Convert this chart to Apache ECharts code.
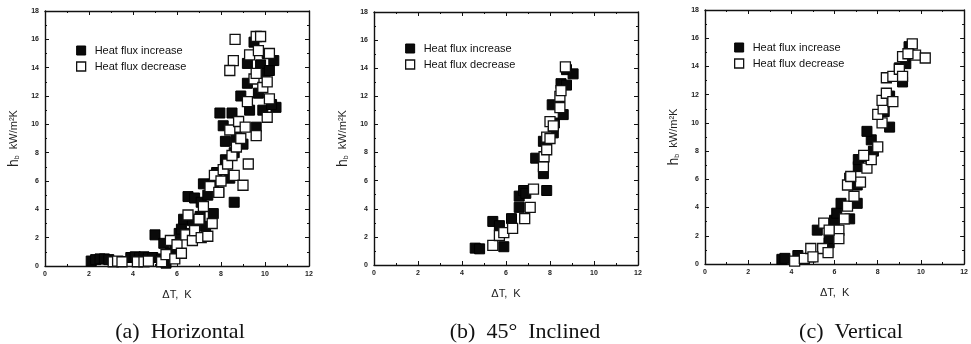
<!DOCTYPE html>
<html><head><meta charset="utf-8">
<script src="https://cdn.jsdelivr.net/npm/echarts@6/dist/echarts.min.js"></script>
<style>html,body{margin:0;padding:0;background:#fff}#c{width:971px;height:344px}</style>
</head><body><div id="c"></div>
<script>
// ---- data (ΔT [K], h_b [kW/m²K]) ----
const horizIncrease = [[2.1,0.35],[2.3,0.45],[2.5,0.5],[2.7,0.5],[2.9,0.45],[3.9,0.6],[4.1,0.65],[4.3,0.6],[4.5,0.65],[4.7,0.6],[4.9,0.6],[5.0,2.2],[5.3,0.5],[5.4,1.6],[5.5,0.2],[5.7,0.9],[5.9,1.2],[6.1,2.3],[6.2,2.6],[6.3,3.3],[6.5,4.9],[6.6,2.3],[6.7,3.2],[6.8,4.8],[7.05,3.5],[7.1,4.5],[7.2,5.8],[7.3,2.8],[7.4,5.0],[7.65,3.7],[7.65,5.8],[7.8,6.6],[7.9,5.2],[7.95,10.8],[8.1,9.9],[8.2,7.5],[8.2,8.8],[8.4,6.2],[8.5,10.8],[8.6,4.5],[8.6,8.0],[8.7,9.1],[8.9,12.0],[9.0,8.6],[9.2,12.9],[9.2,14.3],[9.3,11.0],[9.5,15.8],[9.6,9.8],[9.7,12.2],[9.8,14.2],[9.9,11.0],[10.0,13.6],[10.1,15.0],[10.2,13.8],[10.4,14.5],[10.5,11.2],[10.3,11.4]];
const horizDecrease = [[3.1,0.3],[3.3,0.35],[3.5,0.3],[4.2,0.3],[4.5,0.3],[4.7,0.35],[5.3,0.3],[5.5,0.8],[5.7,1.8],[5.9,0.5],[6.0,1.5],[6.2,0.9],[6.4,2.2],[6.5,3.6],[6.7,1.8],[6.8,2.5],[7.0,3.3],[7.1,2.0],[7.2,4.2],[7.4,2.1],[7.5,5.6],[7.6,3.0],[7.7,6.4],[7.9,5.2],[8.0,6.0],[8.1,6.8],[8.3,7.2],[8.4,9.6],[8.5,7.8],[8.6,6.4],[8.56,14.5],[9.0,5.7],[8.7,8.4],[8.8,10.2],[8.9,9.0],[9.24,7.2],[8.4,13.8],[8.64,16.0],[9.1,9.8],[9.2,11.6],[9.3,14.9],[9.6,9.2],[9.5,13.2],[9.6,16.2],[9.7,15.2],[10.1,10.5],[9.9,12.6],[10.1,13.0],[10.2,11.8],[10.2,15.0],[9.6,13.6],[9.8,16.2]];
const incl45Increase = [[4.6,1.2],[4.8,1.15],[5.4,3.1],[5.7,2.8],[5.9,1.3],[6.25,3.3],[6.6,4.1],[6.6,4.9],[6.8,5.3],[6.9,5.1],[7.35,7.6],[7.7,6.5],[7.7,8.8],[7.85,5.3],[8.15,9.4],[8.2,10.1],[8.1,11.4],[8.6,10.7],[8.5,12.9],[8.75,12.8],[8.75,13.9],[9.05,13.6]];
const incl45Decrease = [[5.4,1.4],[5.7,2.1],[5.9,2.3],[6.3,2.6],[6.85,3.3],[7.1,4.1],[7.25,5.4],[7.7,7.0],[7.73,7.7],[7.85,8.2],[7.85,9.1],[8.0,9.0],[8.0,10.2],[8.15,9.9],[8.45,11.2],[8.45,12.0],[8.5,12.4],[8.7,14.1]];
const vertIncrease = [[3.56,0.33],[3.7,0.4],[4.3,0.6],[4.9,0.5],[5.2,2.4],[5.75,1.5],[5.75,1.8],[6.0,3.1],[6.1,3.6],[6.3,4.3],[6.7,3.2],[7.05,4.3],[7.05,5.6],[6.7,6.1],[7.1,6.9],[7.1,7.4],[7.5,7.6],[7.8,8.0],[7.7,8.8],[7.5,9.4],[8.55,9.7],[8.3,10.8],[8.55,11.9],[9.15,12.9],[9.0,13.9],[9.3,14.2],[9.25,14.7],[9.45,15.4]];
const vertDecrease = [[4.15,0.2],[4.6,0.4],[4.9,1.1],[5.45,1.1],[5.0,0.5],[5.7,0.8],[5.5,2.9],[6.2,2.4],[6.2,1.8],[5.75,2.4],[6.45,3.2],[6.6,4.1],[6.9,4.8],[6.6,5.6],[7.2,5.8],[6.75,6.2],[7.5,6.8],[7.7,7.4],[7.35,7.7],[8.0,8.3],[8.2,10.0],[8.0,10.6],[8.25,11.0],[8.2,11.6],[8.4,12.1],[8.7,11.5],[8.4,13.2],[8.7,13.3],[9.0,13.8],[9.15,13.3],[9.15,14.7],[9.6,15.6],[9.75,14.8],[10.2,14.6],[9.4,14.9]];
const panelCaptions = ['(a)  Horizontal', '(b)  45°  Inclined', '(c)  Vertical'];
const seriesNames = ['Heat flux increase', 'Heat flux decrease'];
const xTitle = 'ΔT,  K';

const panels = [
  {grid:{left:45, top:11, width:264, height:255}, inc:horizIncrease, dec:horizDecrease, legend:{left:71, top:40}, cap:175},
  {grid:{left:374, top:12, width:264, height:253}, inc:incl45Increase, dec:incl45Decrease, legend:{left:400, top:38}, cap:520},
  {grid:{left:705, top:10, width:264, height:254}, inc:vertIncrease, dec:vertDecrease, legend:{left:729, top:37}, cap:846}
];

const tickLbl = {fontSize:7, fontWeight:'bold', color:'#222', fontFamily:'Liberation Sans'};
const lineS = {onZero:false, lineStyle:{color:'#111', width:1.4}};
const tickS = {inside:true, length:4, lineStyle:{color:'#111'}};
const minorS = {show:true, splitNumber:2, length:2, lineStyle:{color:'#111'}};
const incStyle = {color:'#0a0a0a', borderColor:'#000', borderWidth:1, opacity:1};
const decStyle = {color:'#fff', borderColor:'#111', borderWidth:1.3, opacity:1};
const grids=[], xAxes=[], yAxes=[], series=[], legends=[], titles=[];
panels.forEach((p,i)=>{
  grids.push(Object.assign({containLabel:false}, p.grid));
  xAxes.push({type:'value', gridIndex:i, min:0, max:12, interval:2, position:'bottom',
    name:xTitle, nameLocation:'middle', nameGap:23,
    nameTextStyle:{fontSize:11, color:'#222', fontFamily:'Liberation Sans'},
    axisLine:lineS, axisTick:tickS, minorTick:minorS,
    axisLabel:Object.assign({margin:5}, tickLbl), splitLine:{show:false}});
  xAxes.push({type:'value', gridIndex:i, min:0, max:12, interval:2, position:'top',
    axisLine:lineS, axisTick:tickS, minorTick:minorS,
    axisLabel:{show:false}, splitLine:{show:false}});
  yAxes.push({type:'value', gridIndex:i, min:0, max:18, interval:2, position:'left',
    name:'{h|h}{s|b}  kW/m²K', nameLocation:'middle', nameGap:24, nameRotate:90,
    nameTextStyle:{fontSize:11, color:'#222', fontFamily:'Liberation Sans',
      rich:{h:{fontSize:14, color:'#222', fontFamily:'Liberation Sans', verticalAlign:'bottom'},
            s:{fontSize:7, verticalAlign:'bottom', fontFamily:'Liberation Sans', color:'#222'}}},
    axisLine:lineS, axisTick:tickS, minorTick:minorS,
    axisLabel:Object.assign({margin:6}, tickLbl), splitLine:{show:false}});
  yAxes.push({type:'value', gridIndex:i, min:0, max:18, interval:2, position:'right',
    axisLine:lineS, axisTick:tickS, minorTick:minorS,
    axisLabel:{show:false}, splitLine:{show:false}});
  series.push({type:'scatter', name:seriesNames[0], xAxisIndex:2*i, yAxisIndex:2*i, data:p.inc,
    symbol:'rect', symbolSize:10, itemStyle:incStyle, z:2});
  series.push({type:'scatter', name:seriesNames[1], xAxisIndex:2*i, yAxisIndex:2*i, data:p.dec,
    symbol:'rect', symbolSize:10, itemStyle:decStyle, z:3});
  legends.push({orient:'vertical', left:p.legend.left, top:p.legend.top, itemWidth:9, itemHeight:9, itemGap:5,
    selectedMode:false, data:[
      {name:seriesNames[0], icon:'rect', itemStyle:incStyle},
      {name:seriesNames[1], icon:'rect', itemStyle:decStyle}],
    textStyle:{fontSize:11, color:'#111', fontFamily:'Liberation Sans', padding:[0,0,0,4]}});
  titles.push({text:panelCaptions[i], left:p.cap, top:316, textAlign:'center',
    textStyle:{fontFamily:'Liberation Serif', fontSize:22, fontWeight:'normal', color:'#111'}});
});

const chart = echarts.init(document.getElementById('c'), null, {renderer:'canvas'});
chart.setOption({animation:false, backgroundColor:'#fff', title:titles, grid:grids, xAxis:xAxes, yAxis:yAxes, legend:legends, series:series});
</script></body></html>
